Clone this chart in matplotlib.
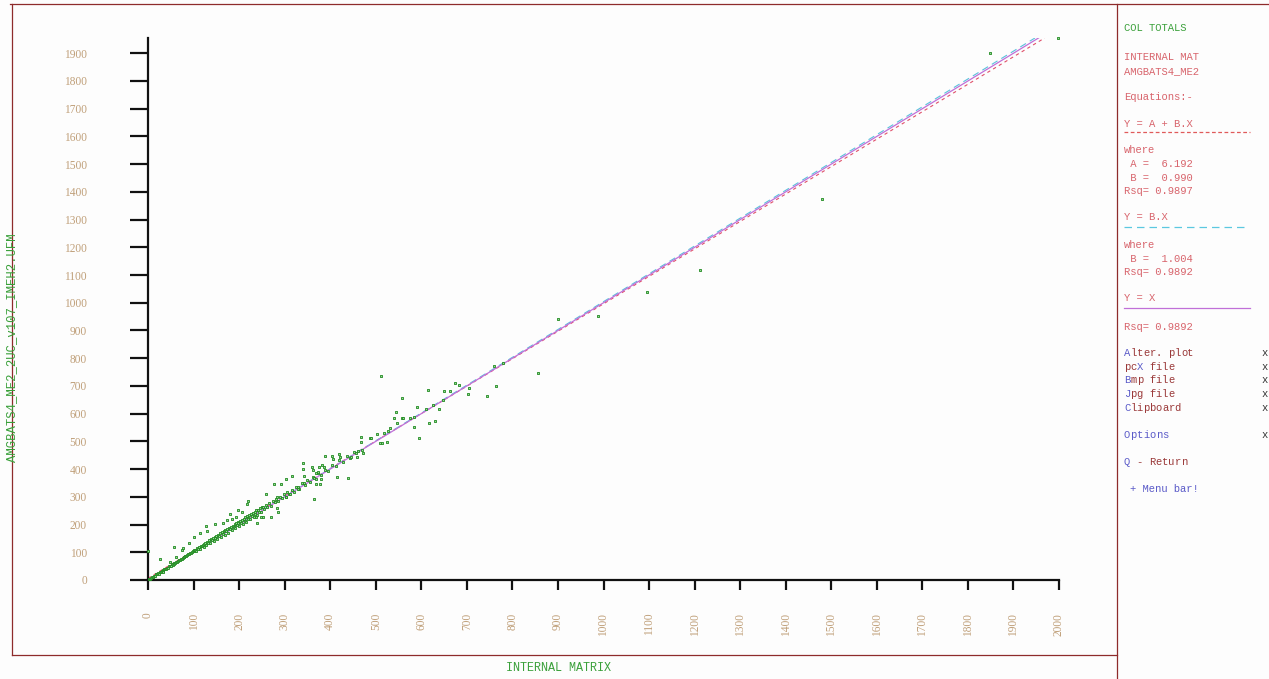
import numpy as np
import matplotlib
matplotlib.use("Agg")
from matplotlib import pyplot as plt
from matplotlib.lines import Line2D

W, H = 1269, 679

# column totals: internal matrix (x) against model matrix (y)
dense_x = [2, 4, 6, 8, 10, 12, 14, 16, 18, 20, 22, 24, 26, 28, 30, 32, 34, 36, 38, 40,
           42, 44, 46, 48, 50, 52, 54, 56, 58, 60, 62, 64, 66, 68, 70, 72, 74, 76, 78, 80,
           82, 84, 86, 88, 90, 92, 94, 96, 98, 100, 102, 104, 106, 108, 110, 112, 114, 116,
           118, 120, 122, 124, 126, 128, 130, 132, 134, 136, 138, 140, 142, 144, 146, 148,
           150, 152, 154, 156, 158, 160, 162, 164, 166, 168, 170, 172, 174, 176, 178, 180,
           182, 184, 186, 188, 190, 192, 194, 196, 198, 200, 202, 204, 206, 208, 210, 212,
           214, 216, 218, 220, 222, 224, 226, 228, 230, 232, 234, 236, 238, 240, 242, 244,
           246, 248, 250]
dense_y = [3, 5, 6, 10, 11, 12, 16, 15, 20, 21, 24, 23, 28, 30, 31, 35, 34, 39, 40, 41,
           45, 44, 49, 50, 52, 56, 55, 60, 59, 63, 66, 65, 70, 71, 73, 77, 76, 80, 82, 83,
           88, 86, 91, 92, 95, 98, 97, 101, 104, 103, 108, 110, 106, 116, 113, 120, 112, 124,
           122, 128, 119, 131, 134, 127, 138, 135, 143, 132, 147, 144, 151, 140, 155, 150,
           158, 149, 164, 160, 168, 156, 172, 167, 176, 164, 180, 175, 185, 171, 188, 183,
           192, 180, 196, 190, 201, 188, 205, 199, 210, 196, 212, 205, 217, 203, 220, 214,
           226, 211, 230, 222, 234, 219, 238, 231, 242, 228, 246, 238, 251, 236, 254, 247,
           258, 244, 262]

band_x = [254, 258, 262, 266, 270, 274, 278, 282, 286, 290, 294, 298, 302, 306, 310, 316,
          320, 326, 332, 338, 344, 350, 356, 362, 368, 374, 380, 388, 396, 404, 412, 420,
          428, 436, 444, 452]
band_y = [255, 270, 262, 276, 268, 285, 280, 293, 284, 300, 294, 310, 300, 318, 309, 326,
          318, 337, 330, 350, 342, 362, 352, 373, 365, 386, 378, 398, 392, 416, 410, 432,
          425, 448, 440, 463]

spread_x = [1, 26, 34, 48, 56, 61, 74, 76, 89, 101, 114, 128, 130, 147, 165, 174, 180,
            184, 193, 198, 198, 206, 217, 219, 220, 237, 239, 247, 252, 253, 259, 270, 277,
            283, 284, 286, 291, 302, 304, 312, 317, 329, 330, 341, 341, 343, 343, 359, 363,
            364, 365, 368, 369, 374, 375, 378, 380, 381, 386, 389, 405, 407, 416, 420, 422,
            440, 445, 456, 458, 462, 468, 468, 470, 473, 487, 489, 502, 509, 513, 519, 524,
            526, 531, 541, 544, 546, 557, 558, 559, 576, 583, 585, 591, 595, 610, 615, 616,
            626, 631, 639, 648, 650, 662, 675, 683, 703, 705, 744, 760, 765, 780, 512]
spread_y = [106, 74, 30, 66, 120, 84, 108, 114, 132, 156, 171, 195, 178, 202, 204, 216,
            237, 220, 228, 252, 207, 244, 274, 285, 220, 228, 204, 228, 264, 228, 312, 226,
            346, 258, 300, 246, 348, 364, 300, 309, 375, 336, 330, 421, 399, 376, 351, 409,
            396, 291, 369, 348, 385, 390, 407, 345, 363, 415, 406, 448, 447, 435, 372, 455,
            443, 368, 442, 459, 445, 466, 499, 517, 469, 457, 511, 511, 525, 495, 495, 532,
            499, 537, 547, 583, 607, 565, 584, 656, 584, 586, 589, 553, 625, 513, 616, 685,
            565, 632, 573, 615, 649, 681, 682, 709, 703, 671, 691, 663, 771, 698, 783, 735]

far_x = [856, 900, 988, 1095, 1212, 1480, 1849, 1998]
far_y = [746, 941, 952, 1038, 1117, 1373, 1900, 1955]

x_ticks = list(range(0, 2001, 100))
y_ticks = list(range(0, 1901, 100))

fit_a, fit_b = 6.192, 0.990       # Y = A + B.X
thru_b = 1.004                    # Y = B.X
y_top = 1955

RED = "#8e2b2b"
PINK = "#d8646c"
GREEN = "#3aa03a"
TAN = "#c0a07a"
BLUE = "#5a5ac8"
DARK = "#9a3838"


def fx(px):
    return px / W


def fy(py):
    return 1 - py / H


fig = plt.figure(figsize=(W / 100, H / 100), dpi=100)
fig.patch.set_facecolor("#fdfdfd")

ax = fig.add_axes([fx(148), fy(580), (1059 - 148) / W, (580 - 38) / H])
ax.set_facecolor("none")
ax.set_xlim(0, 2000)
ax.set_ylim(0, y_top)
for s in ["top", "right"]:
    ax.spines[s].set_visible(False)
for s in ["left", "bottom"]:
    ax.spines[s].set_linewidth(1.6)
    ax.spines[s].set_color("#111111")

ax.set_xticks(x_ticks)
ax.set_yticks(y_ticks)
ax.tick_params(axis="y", length=13, width=1.6, pad=31, labelsize=8.3,
               labelcolor=TAN, color="#111111")
ax.tick_params(axis="x", length=7.5, width=1.6, pad=16, labelsize=8.3,
               labelcolor=TAN, color="#111111", labelrotation=90)
for lab in ax.get_xticklabels() + ax.get_yticklabels():
    lab.set_family("Liberation Serif")

# regression lines, stopped where they reach the top of the scale
x1 = np.array([0, (y_top - fit_a) / fit_b])
ax.plot(x1, fit_a + fit_b * x1, color="#e0506a", lw=0.8, ls=(0, (3, 3)))
x2 = np.array([0, y_top / thru_b])
ax.plot(x2, thru_b * x2, color="#5bc0dc", lw=0.8, ls=(0, (6, 4)))
x3 = np.array([0, y_top])
ax.plot(x3, x3, color="#c070d8", lw=0.9)

all_x = dense_x + band_x + spread_x + far_x
all_y = dense_y + band_y + spread_y + far_y
ax.scatter(all_x, all_y, marker="s", s=3.2, facecolors="#9ada9a",
           edgecolors="#1f8a1f", linewidths=0.6, clip_on=False, zorder=3)

# outer frame
frame = [((10, 4), (1269, 4)), ((12, 4), (12, 655)), ((12, 655), (1117, 655)),
         ((1117, 4), (1117, 679))]
for (x0, y0), (x1_, y1_) in frame:
    fig.add_artist(Line2D([fx(x0), fx(x1_)], [fy(y0), fy(y1_)], color=RED, lw=0.9))

mono = "Liberation Mono"
fig.text(fx(558), fy(668), "INTERNAL MATRIX", color=GREEN, family=mono,
         fontsize=8.5, ha="center", va="center")
fig.text(fx(12), fy(348), "AMGBATS4_ME2_2UC_v107_IMEH2.UFM", color=GREEN,
         family=mono, fontsize=8.8, rotation=90, ha="center", va="center")

# side panel
px0 = 1124
fs = 7.6
cw = 0.6 * fs * 100 / 72
panel = [
    (28, "COL TOTALS", GREEN),
    (57, "INTERNAL MAT", PINK),
    (71, "AMGBATS4_ME2", PINK),
    (97, "Equations:-", PINK),
    (124, "Y = A + B.X", PINK),
    (150, "where", PINK),
    (164, " A =  6.192", PINK),
    (178, " B =  0.990", PINK),
    (191, "Rsq= 0.9897", PINK),
    (217, "Y = B.X", PINK),
    (245, "where", PINK),
    (259, " B =  1.004", PINK),
    (272, "Rsq= 0.9892", PINK),
    (298, "Y = X", PINK),
    (327, "Rsq= 0.9892", PINK),
]
for py, txt, c in panel:
    fig.text(fx(px0), fy(py), txt, color=c, family=mono, fontsize=fs, va="center")

fig.add_artist(Line2D([fx(1124), fx(1250)], [fy(132), fy(132)], color="#e05a5a",
                      lw=0.9, ls=(0, (3, 2))))
fig.add_artist(Line2D([fx(1124), fx(1246)], [fy(227), fy(227)], color="#5bc8e0",
                      lw=0.9, ls=(0, (6, 4))))
fig.add_artist(Line2D([fx(1124), fx(1250)], [fy(308), fy(308)], color="#c070d8", lw=0.9))

# menu entries, hot key letter in blue
menu = [
    (353, "Alter. plot", 0, True),
    (367, "pcX file", 2, True),
    (380, "Bmp file", 0, True),
    (394, "Jpg file", 0, True),
    (408, "Clipboard", 0, True),
    (435, "Options", 0, True),
    (462, "Q - Return", 0, False),
]
for py, txt, hk, mark in menu:
    for i, ch in enumerate(txt):
        c = BLUE if i == hk else DARK
        if txt == "Options":
            c = BLUE
        fig.text(fx(px0 + i * cw), fy(py), ch, color=c, family=mono, fontsize=fs,
                 va="center")
    if mark:
        fig.text(fx(1262), fy(py), "x", color="#333333", family=mono, fontsize=fs,
                 va="center")
fig.text(fx(px0 + cw), fy(489), "+ Menu bar!", color=BLUE, family=mono, fontsize=fs,
         va="center")

fig.savefig("out.png", dpi=100, facecolor=fig.get_facecolor())
